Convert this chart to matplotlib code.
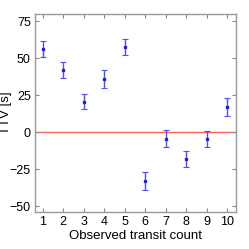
import matplotlib
matplotlib.use("Agg")
import matplotlib.pyplot as plt
import numpy as np

plt.rcParams['font.family'] = ['Liberation Sans', 'DejaVu Sans']

transit = [1, 2, 3, 4, 5, 6, 7, 8, 9, 10]
ttv = [56.1, 42.1, 20.7, 36.0, 57.6, -32.9, -4.3, -18.2, -4.3, 17.1]
err = [5.3, 5.2, 5.2, 6.0, 5.2, 6.0, 6.0, 5.2, 5.4, 6.3]

fig = plt.figure(figsize=(2.49, 2.49), dpi=100)
ax = fig.add_axes([35/249, 37/249, 201/249, 198/249])

ax.axhline(0, color='#ff6060', lw=1.0, zorder=1)
ax.errorbar(transit, ttv, yerr=err, fmt='s', ms=1.4, color='#1a1aff',
            ecolor='#4f4fff', elinewidth=1.0, capsize=2.5, capthick=0.8, zorder=2)

ax.set_xlim(0.62, 10.42)
ax.set_ylim(-54, 80)
ax.set_xticks(transit)
ax.set_yticks([-50, -25, 0, 25, 50, 75])
ax.tick_params(direction='in', top=True, right=True, length=3, width=0.8,
               color='#888888', labelsize=9, pad=3)
for s in ax.spines.values():
    s.set_color('#999999')
    s.set_linewidth(1.0)
ax.set_xlabel('Observed transit count', fontsize=9.5, labelpad=1)
ax.set_ylabel('TTV [s]', fontsize=9.5, va='center')
ax.yaxis.set_label_coords(-0.145, 0.5)

fig.savefig('out.png', dpi=100)
